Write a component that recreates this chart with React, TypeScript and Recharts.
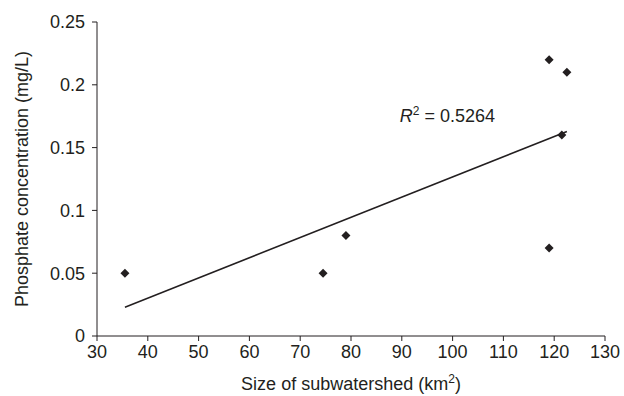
import { ScatterChart, Scatter, XAxis, YAxis, ReferenceDot } from "recharts";

const sizes = [35.5, 74.5, 79, 119, 122.5, 121.5, 119];
const phosphate = [0.05, 0.05, 0.08, 0.22, 0.21, 0.16, 0.07];
const xTicks = [30, 40, 50, 60, 70, 80, 90, 100, 110, 120, 130];
const yTicks = [0, 0.05, 0.1, 0.15, 0.2, 0.25];
const r2Text = "0.5264";

const ink = "#231f20";
const font = "'Liberation Sans', Arial, sans-serif";

const points = sizes.map((x, i) => ({ x, y: phosphate[i] }));

// least squares trend line over the data range
const n = points.length;
const mx = sizes.reduce((a, b) => a + b, 0) / n;
const my = phosphate.reduce((a, b) => a + b, 0) / n;
let sxy = 0;
let sxx = 0;
points.forEach((p) => {
  sxy += (p.x - mx) * (p.y - my);
  sxx += (p.x - mx) * (p.x - mx);
});
const slope = sxy / sxx;
const icpt = my - slope * mx;
const xMin = Math.min(...sizes);
const xMax = Math.max(...sizes);
const trend = [
  { x: xMin, y: icpt + slope * xMin },
  { x: xMax, y: icpt + slope * xMax },
];

const Diamond = (props: any) => {
  const { cx, cy } = props;
  const s = 4.5;
  return (
    <polygon
      points={`${cx},${cy - s} ${cx + s},${cy} ${cx},${cy + s} ${cx - s},${cy}`}
      fill={ink}
    />
  );
};

export default function App() {
  return (
    <div style={{ position: "absolute", left: 0, top: 0 }}>
      <ScatterChart
        width={624}
        height={396}
        margin={{ top: 22, right: 19, left: 0, bottom: 0 }}
        style={{ fontFamily: font }}
      >
        <XAxis
          type="number"
          dataKey="x"
          domain={[30, 130]}
          ticks={xTicks}
          height={60}
          stroke={ink}
          tick={{ fill: ink, fontSize: 18 }}
          tickSize={5}
          tickMargin={4}
          label={{
            content: (p: any) => {
              const vb = p.viewBox;
              return (
                <text
                  x={vb.x + vb.width / 2}
                  y={vb.y + 54}
                  textAnchor="middle"
                  fill={ink}
                  fontSize={18}
                  fontFamily={font}
                >
                  Size of subwatershed (km
                  <tspan dy={-7} fontSize={12}>2</tspan>
                  <tspan dy={7}>)</tspan>
                </text>
              );
            },
          }}
        />
        <YAxis
          type="number"
          dataKey="y"
          domain={[0, 0.25]}
          ticks={yTicks}
          width={97}
          stroke={ink}
          tick={{ fill: ink, fontSize: 18 }}
          tickSize={5}
          tickMargin={7}
          label={{
            content: (p: any) => {
              const vb = p.viewBox;
              const cx = 28;
              const cy = vb.y + vb.height / 2;
              return (
                <text
                  x={cx}
                  y={cy}
                  transform={`rotate(-90, ${cx}, ${cy})`}
                  textAnchor="middle"
                  fill={ink}
                  fontSize={18}
                  fontFamily={font}
                >
                  Phosphate concentration (mg/L)
                </text>
              );
            },
          }}
        />
        <Scatter
          data={trend}
          line={{ stroke: ink, strokeWidth: 1.5 }}
          lineType="joint"
          shape={() => null}
          isAnimationActive={false}
        />
        <Scatter data={points} shape={Diamond} isAnimationActive={false} />
        <ReferenceDot
          x={89.6}
          y={0.17}
          shape={(p: any) => (
            <text x={p.cx} y={p.cy} fill={ink} fontSize={18} fontFamily={font}>
              <tspan fontStyle="italic">R</tspan>
              <tspan dy={-7} fontSize={12}>2</tspan>
              <tspan dy={7}>{` = ${r2Text}`}</tspan>
            </text>
          )}
        />
      </ScatterChart>
    </div>
  );
}
